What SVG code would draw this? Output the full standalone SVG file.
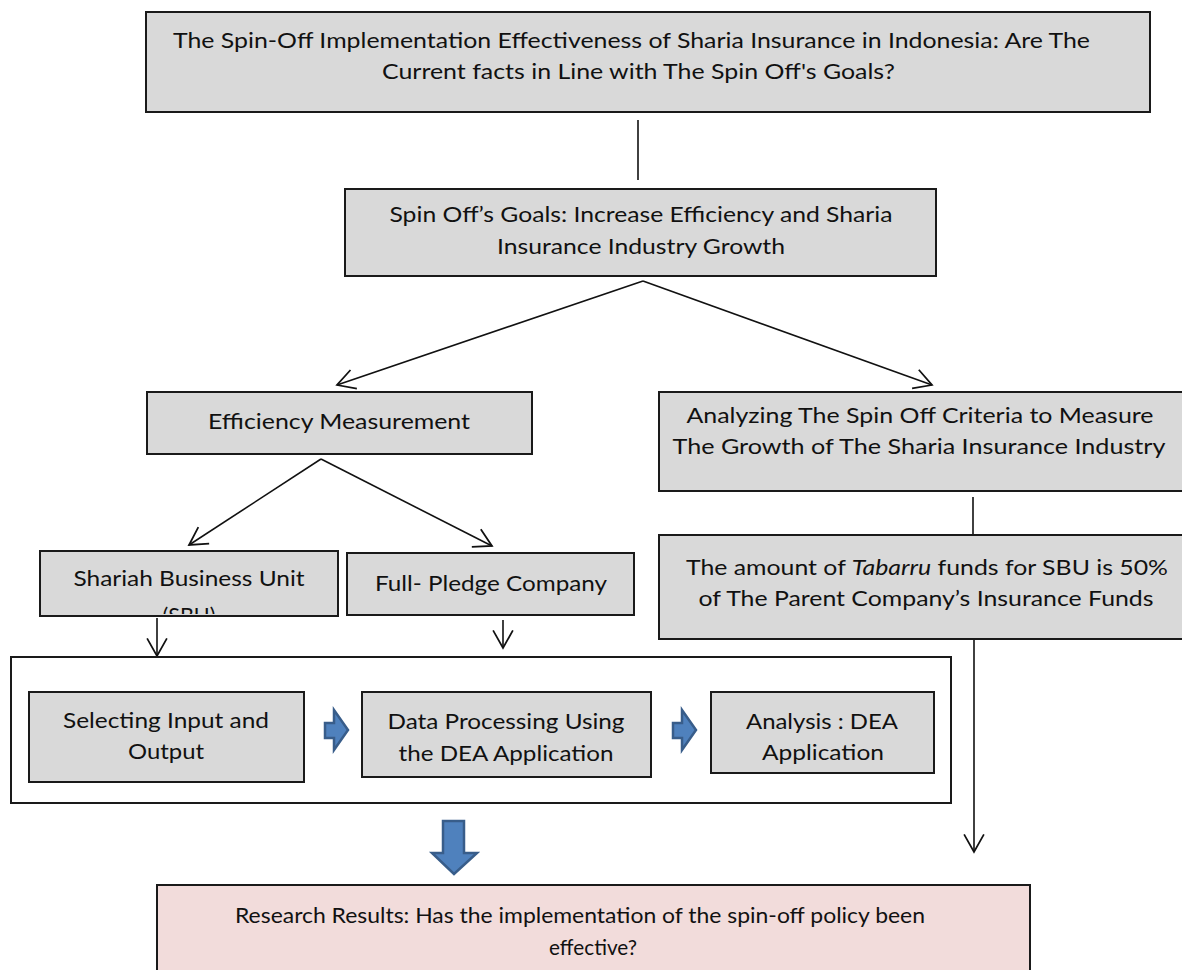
<svg xmlns="http://www.w3.org/2000/svg" width="1182" height="970" viewBox="0 0 1182 970">
<style>
.box{fill:#d9d9d9;stroke:#1a1a1a;stroke-width:2}
.wbox{fill:#ffffff;stroke:#1a1a1a;stroke-width:2}
.res{fill:#f2dcdb;stroke:#1a1a1a;stroke-width:2}
.t{font-family:Lato,"Open Sans","Liberation Sans",sans-serif;font-size:21.5px;fill:#111}
.c{text-anchor:middle}
.ln{stroke:#111;stroke-width:1.6;fill:none}
.blue{fill:#4f81bd;stroke:#385d8a;stroke-width:2.5;stroke-linejoin:miter}
</style>
<defs>
<marker id="v" markerUnits="userSpaceOnUse" markerWidth="22" markerHeight="22" viewBox="0 0 20 20" refX="18" refY="10" orient="auto">
<path d="M2,1 L18,10 L2,19" fill="none" stroke="#111" stroke-width="1.6"/>
</marker>
<clipPath id="sbuclip"><rect x="41" y="552" width="296" height="62"/></clipPath>
</defs>
<rect width="1182" height="970" fill="#ffffff"/>

<g id="connectors">
<line class="ln" x1="638" y1="120" x2="638" y2="180"/>
<line class="ln" x1="643" y1="281" x2="337" y2="385" marker-end="url(#v)"/>
<line class="ln" x1="643" y1="281" x2="932" y2="385" marker-end="url(#v)"/>
<line class="ln" x1="321" y1="459" x2="189" y2="545" marker-end="url(#v)"/>
<line class="ln" x1="321" y1="459" x2="492" y2="546" marker-end="url(#v)"/>
<line class="ln" x1="157" y1="618" x2="157" y2="656" marker-end="url(#v)"/>
<line class="ln" x1="503" y1="620" x2="503" y2="648" marker-end="url(#v)"/>
<line class="ln" x1="973" y1="497" x2="973" y2="535"/>
<line class="ln" x1="974" y1="639" x2="974" y2="852" marker-end="url(#v)"/>
</g>

<g id="title">
<rect class="box" x="146" y="12" width="1004" height="100"/>
<text class="t" x="173" y="48" textLength="917" lengthAdjust="spacingAndGlyphs">The Spin-Off Implementation Effectiveness of Sharia Insurance in Indonesia: Are The</text>
<text class="t" x="382" y="79" textLength="513" lengthAdjust="spacingAndGlyphs">Current facts in Line with The Spin Off's Goals?</text>
</g>

<g id="goals">
<rect class="box" x="345" y="189" width="591" height="87"/>
<text class="t c" x="641" y="222" textLength="503" lengthAdjust="spacingAndGlyphs">Spin Off’s Goals: Increase Efficiency and Sharia</text>
<text class="t c" x="641" y="254" textLength="288" lengthAdjust="spacingAndGlyphs">Insurance Industry Growth</text>
</g>

<g id="efficiency">
<rect class="box" x="147" y="392" width="385" height="62"/>
<text class="t c" x="339" y="429" textLength="262" lengthAdjust="spacingAndGlyphs">Efficiency Measurement</text>
</g>

<g id="analyzing">
<rect class="box" x="659" y="392" width="540" height="99"/>
<text class="t c" x="920" y="423" textLength="467" lengthAdjust="spacingAndGlyphs">Analyzing  The Spin Off Criteria to Measure</text>
<text class="t c" x="919" y="454" textLength="493" lengthAdjust="spacingAndGlyphs">The Growth of The Sharia Insurance Industry</text>
</g>

<g id="tabarru">
<rect class="box" x="659" y="535" width="540" height="104"/>
<text class="t c" x="927" y="575" textLength="482" lengthAdjust="spacingAndGlyphs">The amount of <tspan font-style="italic">Tabarru</tspan> funds for SBU  is 50%</text>
<text class="t c" x="926" y="606" textLength="455" lengthAdjust="spacingAndGlyphs">of The Parent Company’s Insurance Funds</text>
</g>

<g id="sbu">
<rect class="box" x="40" y="551" width="298" height="65"/>
<text class="t c" x="189" y="586" textLength="231" lengthAdjust="spacingAndGlyphs">Shariah Business Unit</text>
<text class="t c" x="189" y="623" clip-path="url(#sbuclip)">(SBU)</text>
</g>

<g id="fullpledge">
<rect class="box" x="347" y="553" width="287" height="62"/>
<text class="t c" x="491" y="591" textLength="232" lengthAdjust="spacingAndGlyphs">Full- Pledge Company</text>
</g>

<g id="process">
<rect class="wbox" x="11" y="657" width="940" height="146"/>
</g>

<g id="selecting">
<rect class="box" x="29" y="692" width="275" height="90"/>
<text class="t c" x="166" y="728" textLength="206" lengthAdjust="spacingAndGlyphs">Selecting Input and</text>
<text class="t c" x="166" y="759" textLength="76" lengthAdjust="spacingAndGlyphs">Output</text>
</g>

<g id="arrow1">
<polygon class="blue" points="325,723 334,723 334,710 348,730 334,750 334,738 325,738"/>
</g>

<g id="dataprocessing">
<rect class="box" x="362" y="692" width="289" height="85"/>
<text class="t c" x="506" y="729" textLength="237" lengthAdjust="spacingAndGlyphs">Data Processing Using</text>
<text class="t c" x="506" y="761" textLength="215" lengthAdjust="spacingAndGlyphs">the DEA Application</text>
</g>

<g id="arrow2">
<polygon class="blue" points="673,723 682,723 682,710 696,730 682,750 682,738 673,738"/>
</g>

<g id="analysis">
<rect class="box" x="711" y="692" width="223" height="81"/>
<text class="t c" x="822" y="729" textLength="152" lengthAdjust="spacingAndGlyphs">Analysis : DEA</text>
<text class="t c" x="823" y="760" textLength="122" lengthAdjust="spacingAndGlyphs">Application</text>
</g>

<g id="bigarrow">
<polygon class="blue" stroke-width="3" points="443,821 464,821 464,853 477,853 454,874 432,853 443,853"/>
</g>

<g id="results">
<rect class="res" x="157" y="885" width="873" height="95"/>
<text class="t c" x="580" y="923" textLength="690" lengthAdjust="spacingAndGlyphs">Research Results: Has the implementation of the spin-off policy been</text>
<text class="t c" x="593" y="955" textLength="88" lengthAdjust="spacingAndGlyphs">effective?</text>
</g>
</svg>
